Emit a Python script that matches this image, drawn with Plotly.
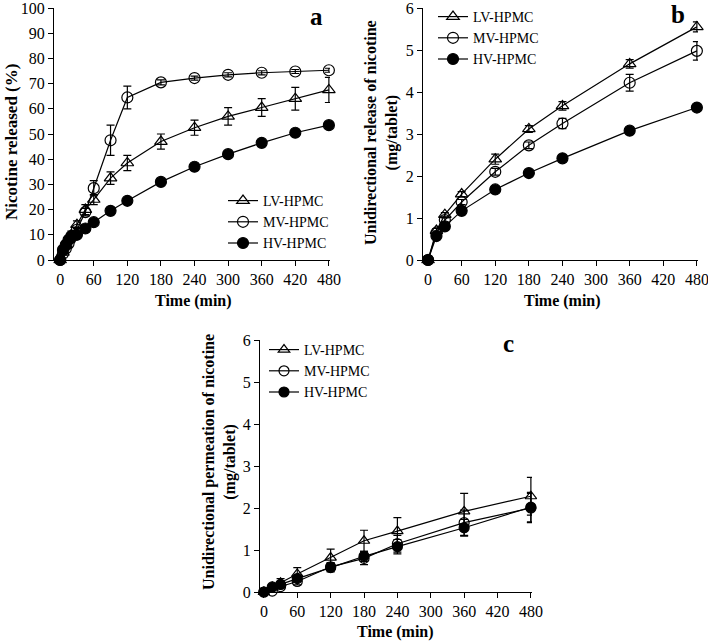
import plotly.graph_objects as go

W, H = 708, 642

# ---------------- data ----------------
# Panel a: percent nicotine released
t_a = [0, 5, 10, 15, 20, 30, 45, 60, 90, 120, 180, 240, 300, 360, 420, 480]
a_lv = [0, 3, 6, 8, 10, 14, 20, 24, 32.5, 38.5, 47, 52.5, 57, 60.5, 64, 67.5]
a_lv_err = [0, 0.5, 1, 1, 1.5, 1.5, 2, 2, 2.5, 3, 3, 3, 3.5, 3.5, 4.5, 5]
a_mv = [0, 2.5, 4.5, 6.5, 9, 12, 19, 28.5, 47.5, 64.5, 70.5, 72.2, 73.5, 74.3, 74.8, 75.3]
a_mv_err = [0, 0.5, 0.5, 1, 1, 1, 1.5, 3, 6, 4.5, 1, 0.8, 0.8, 0.8, 0.8, 0.8]
a_hv = [0, 4, 6, 8, 9.5, 10, 12.5, 15, 19.5, 23.5, 31, 37, 42, 46.5, 50.5, 53.5]
a_hv_err = [0, 0.5, 0.5, 0.5, 0.5, 0.5, 0.5, 0.5, 0.8, 0.8, 0.8, 0.8, 0.8, 0.8, 0.8, 0.8]

# Panel b: unidirectional release (mg/tablet)
t_b = [0, 15, 30, 60, 120, 180, 240, 360, 480]
b_lv = [0, 0.7, 1.08, 1.57, 2.4, 3.12, 3.67, 4.67, 5.55]
b_lv_err = [0, 0.05, 0.05, 0.06, 0.12, 0.08, 0.1, 0.1, 0.12]
b_mv = [0, 0.65, 0.95, 1.38, 2.1, 2.73, 3.25, 4.22, 4.98]
b_mv_err = [0, 0.04, 0.05, 0.06, 0.08, 0.08, 0.12, 0.2, 0.22]
b_hv = [0, 0.57, 0.8, 1.17, 1.68, 2.07, 2.42, 3.08, 3.63]
b_hv_err = [0, 0.03, 0.03, 0.04, 0.05, 0.05, 0.05, 0.06, 0.06]

# Panel c: unidirectional permeation (mg/tablet)
t_c = [0, 15, 30, 60, 120, 180, 240, 360, 480]
c_lv = [0, 0.12, 0.22, 0.43, 0.82, 1.22, 1.45, 1.92, 2.28]
c_lv_err = [0, 0.05, 0.1, 0.15, 0.2, 0.25, 0.32, 0.43, 0.45]
c_mv = [0, 0.02, 0.13, 0.25, 0.6, 0.8, 1.15, 1.65, 2.0]
c_mv_err = [0, 0.03, 0.05, 0.08, 0.1, 0.15, 0.2, 0.3, 0.35]
c_hv = [0, 0.12, 0.18, 0.32, 0.58, 0.85, 1.08, 1.53, 2.02]
c_hv_err = [0, 0.03, 0.05, 0.06, 0.1, 0.12, 0.17, 0.2, 0.35]

names = ["LV-HPMC", "MV-HPMC", "HV-HPMC"]
symbols = ["triangle-up-open", "circle-open", "circle"]
x_ticks = [0, 60, 120, 180, 240, 300, 360, 420, 480]

FONT = "Liberation Serif, Times New Roman, serif"


def px(x):
    return x / W


def py(y):
    return 1 - y / H


fig = go.Figure()

panels = [
    ("x", "y", "legend", t_a, [(a_lv, a_lv_err), (a_mv, a_mv_err), (a_hv, a_hv_err)], 11),
    ("x2", "y2", "legend2", t_b, [(b_lv, b_lv_err), (b_mv, b_mv_err), (b_hv, b_hv_err)], 11),
    ("x3", "y3", "legend3", t_c, [(c_lv, c_lv_err), (c_mv, c_mv_err), (c_hv, c_hv_err)], 10),
]

for xa, ya, lg, t, series, msize in panels:
    for i, (vals, err) in enumerate(series):
        fig.add_trace(go.Scatter(
            x=t, y=vals, name=names[i], xaxis=xa, yaxis=ya, legend=lg,
            mode="lines+markers", cliponaxis=False,
            line=dict(color="black", width=1.2),
            marker=dict(symbol=symbols[i], size=msize, color="black",
                        line=dict(color="black", width=1.2)),
            error_y=dict(type="data", array=err, visible=True,
                         color="black", thickness=1.2, width=4),
        ))

axis_common = dict(showline=True, linecolor="black", linewidth=1.2, ticks="outside",
                   ticklen=5, tickcolor="black", tickwidth=1.2, showgrid=False, zeroline=False,
                   automargin=False, ticklabeloverflow="allow",
                   tickfont=dict(family=FONT, size=16, color="black"))

fig.update_layout(
    width=W, height=H, margin=dict(l=0, r=0, t=0, b=0, autoexpand=False),
    paper_bgcolor="white", plot_bgcolor="white", showlegend=True,
    font=dict(family=FONT, color="black"),
    xaxis=dict(domain=[px(54), px(330)], range=[-11, 482], tickvals=x_ticks,
               anchor="y", **axis_common),
    yaxis=dict(domain=[py(260), py(8)], range=[0, 100], tickvals=list(range(0, 101, 10)),
               anchor="x", **axis_common),
    xaxis2=dict(domain=[px(423), px(698)], range=[-9, 482], tickvals=x_ticks,
                anchor="y2", **axis_common),
    yaxis2=dict(domain=[py(260), py(8)], range=[0, 6], tickvals=list(range(0, 7)),
                anchor="x2", **axis_common),
    xaxis3=dict(domain=[px(260), px(532)], range=[-7, 482], tickvals=x_ticks,
                anchor="y3", **axis_common),
    yaxis3=dict(domain=[py(592), py(340)], range=[0, 6], tickvals=list(range(0, 7)),
                anchor="x3", **axis_common),
)

leg_common = dict(font=dict(family=FONT, size=14, color="black"), bgcolor="rgba(0,0,0,0)",
                  itemwidth=30, tracegroupgap=0, xanchor="left", yanchor="top")
fig.update_layout(
    legend=dict(x=px(223), y=py(185), **leg_common),
    legend2=dict(x=px(433), y=py(1), **leg_common),
    legend3=dict(x=px(264), y=py(334), **leg_common),
)

ann = []
title_font = dict(family=FONT, size=16, color="black")
# x titles
for (xc, yc) in [(194, 301), (562, 301), (395, 632)]:
    ann.append(dict(text="<b>Time (min)</b>", x=px(xc), y=py(yc), xref="paper", yref="paper",
                    showarrow=False, font=title_font, xanchor="center", yanchor="middle"))
# y titles
ann.append(dict(text="<b>Nicotine released (%)</b>", x=px(11), y=py(142), xref="paper",
                yref="paper", showarrow=False, textangle=-90,
                font=dict(family=FONT, size=17, color="black"),
                xanchor="center", yanchor="middle"))
ann.append(dict(text="<b>Unidirectional release of nicotine<br>(mg/tablet)</b>", x=px(382),
                y=py(133), xref="paper", yref="paper", showarrow=False, textangle=-90,
                font=title_font, xanchor="center", yanchor="middle"))
ann.append(dict(text="<b>Unidirectional permeation of nicotine<br>(mg/tablet)</b>", x=px(219),
                y=py(462), xref="paper", yref="paper", showarrow=False, textangle=-90,
                font=title_font, xanchor="center", yanchor="middle"))
# panel letters
for (lbl, xc, yc) in [("a", 316, 16), ("b", 678, 15), ("c", 508, 344)]:
    ann.append(dict(text="<b>%s</b>" % lbl, x=px(xc), y=py(yc), xref="paper", yref="paper",
                    showarrow=False, font=dict(family=FONT, size=25, color="black"),
                    xanchor="center", yanchor="middle"))
fig.update_layout(annotations=ann)

fig.write_html("out.html", config={"displayModeBar": False},
               post_script="document.body.style.margin='0px';"
                           "document.body.style.overflow='hidden';"
                           "document.documentElement.style.overflow='hidden';")
